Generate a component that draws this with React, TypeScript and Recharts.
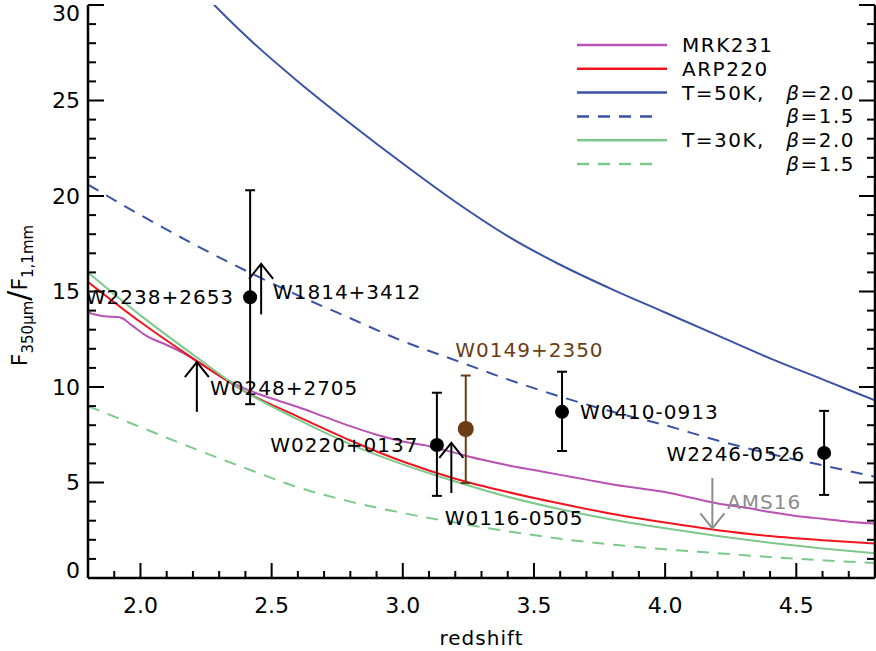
import React from "react";
import { ComposedChart, Line, Scatter, ErrorBar, XAxis, YAxis, Legend } from "recharts";

const FONT = "'DejaVu Sans', sans-serif";

// redshift grid shared by the smooth template curves
const zGrid = [1.8, 2.0, 2.2, 2.4, 2.6, 2.8, 3.0, 3.2, 3.4, 3.6, 3.8, 4.0, 4.2, 4.4, 4.6, 4.8];
const arp220 = [15.5, 13.4, 11.5, 9.75, 8.45, 7.2, 6.1, 5.2, 4.5, 3.9, 3.35, 2.9, 2.5, 2.2, 1.98, 1.8];
const t50b20 = [38.5, 34.6, 31.2, 28.4, 26.0, 23.8, 21.7, 19.7, 17.9, 16.4, 15.1, 13.9, 12.7, 11.5, 10.4, 9.3];
const t50b15 = [20.6, 19.0, 17.5, 16.1, 14.8, 13.6, 12.4, 11.4, 10.4, 9.5, 8.7, 8.0, 7.2, 6.5, 5.9, 5.3];
const t30b20 = [16.0, 13.75, 11.7, 9.75, 8.3, 7.0, 5.95, 5.05, 4.25, 3.6, 3.05, 2.6, 2.2, 1.85, 1.55, 1.3];
const t30b15 = [9.0, 7.9, 6.8, 5.75, 4.75, 4.0, 3.4, 2.9, 2.45, 2.05, 1.75, 1.5, 1.3, 1.1, 0.93, 0.78];

// MRK231 is wiggly at low z, so it has its own sampling
const mrk231Z = [1.8, 1.86, 1.92, 1.97, 2.02, 2.1, 2.16, 2.22, 2.3, 2.4, 2.5, 2.6, 2.7, 2.8, 2.9, 3.0, 3.1, 3.2, 3.3, 3.4, 3.5, 3.6, 3.7, 3.8, 3.9, 4.0, 4.1, 4.2, 4.3, 4.4, 4.5, 4.6, 4.7, 4.8];
const mrk231 = [13.9, 13.7, 13.65, 13.2, 12.7, 12.2, 11.8, 11.3, 10.6, 9.9, 9.4, 8.95, 8.45, 7.95, 7.5, 7.15, 6.9, 6.55, 6.2, 5.9, 5.65, 5.4, 5.15, 4.9, 4.7, 4.5, 4.2, 3.9, 3.7, 3.45, 3.25, 3.1, 2.95, 2.85];

// detections with error bars
const detections = [
  { name: "W2238+2653", x: 2.418, y: 14.7, lo: 9.1, hi: 20.3 },
  { name: "W0220+0137", x: 3.13, y: 6.96, lo: 4.3, hi: 9.7 },
  { name: "W0410-0913", x: 3.607, y: 8.7, lo: 6.65, hi: 10.8 },
  { name: "W2246-0526", x: 4.606, y: 6.55, lo: 4.35, hi: 8.75 },
];
const brownDetections = [{ name: "W0149+2350", x: 3.24, y: 7.8, lo: 4.97, hi: 10.6 }];

// limits: arrow from -> to
const lowerLimits = [
  { name: "W1814+3412", x: 2.46, from: 13.8, to: 16.45 },
  { name: "W0248+2705", x: 2.215, from: 8.7, to: 11.3 },
  { name: "W0116-0505", x: 3.185, from: 4.45, to: 7.07 },
];
const upperLimits = [{ name: "AMS16", x: 4.18, from: 5.24, to: 2.6 }];

// source names, placed in data coordinates
const labelsLeft = [
  { text: "W2238+2653", x: 2.357, y: 14.7 },
  { text: "W0220+0137", x: 3.06, y: 6.96 },
  { text: "W2246-0526", x: 4.534, y: 6.49 },
];
const labelsRight = [
  { text: "W1814+3412", x: 2.505, y: 14.97 },
  { text: "W0248+2705", x: 2.265, y: 9.95 },
  { text: "W0116-0505", x: 3.16, y: 3.14 },
  { text: "W0410-0913", x: 3.675, y: 8.69 },
];
const labelsBrown = [{ text: "W0149+2350", x: 3.2, y: 11.94 }];
const labelsGray = [{ text: "AMS16", x: 4.236, y: 3.98 }];

const xTicks = [1.8, 1.9, 2.0, 2.1, 2.2, 2.3, 2.4, 2.5, 2.6, 2.7, 2.8, 2.9, 3.0, 3.1, 3.2, 3.3, 3.4, 3.5, 3.6, 3.7, 3.8, 3.9, 4.0, 4.1, 4.2, 4.3, 4.4, 4.5, 4.6, 4.7, 4.8];
const xMajor = [2.0, 2.5, 3.0, 3.5, 4.0, 4.5];
const yTicks = [0, 1, 2, 3, 4, 5, 6, 7, 8, 9, 10, 11, 12, 13, 14, 15, 16, 17, 18, 19, 20, 21, 22, 23, 24, 25, 26, 27, 28, 29, 30];
const yMajor = [0, 5, 10, 15, 20, 25, 30];

const MAGENTA = "#B952B4";
const RED = "#F2141C";
const BLUE = "#3A52A6";
const GREEN = "#7DC98B";
const BROWN = "#6B3D14";
const GRAY = "#8C8C8C";

const curve = (xs: number[], ys: number[]) => xs.map((x, i) => ({ x, y: ys[i] }));

const series = [
  { key: "mrk", data: curve(mrk231Z, mrk231), color: MAGENTA, dashed: false, left: "MRK231", right: "" },
  { key: "arp", data: curve(zGrid, arp220), color: RED, dashed: false, left: "ARP220", right: "" },
  { key: "t50b20", data: curve(zGrid, t50b20), color: BLUE, dashed: false, left: "T=50K,", right: "β=2.0" },
  { key: "t50b15", data: curve(zGrid, t50b15), color: BLUE, dashed: true, left: "", right: "β=1.5" },
  { key: "t30b20", data: curve(zGrid, t30b20), color: GREEN, dashed: false, left: "T=30K,", right: "β=2.0" },
  { key: "t30b15", data: curve(zGrid, t30b15), color: GREEN, dashed: true, left: "", right: "β=1.5" },
];

const withErr = (rows: typeof detections) => rows.map((d) => ({ ...d, err: [d.y - d.lo, d.hi - d.y] }));

const isIn = (arr: number[], v: number) => arr.some((t) => Math.abs(t - v) < 1e-6);

const BottomTick = (p: any) => {
  const v = p.payload.value;
  const major = isIn(xMajor, v);
  return (
    <g>
      <line x1={p.x} x2={p.x} y1={p.y} y2={p.y - (major ? 15 : 7)} stroke="#000" strokeWidth={2} />
      {major && (
        <text x={p.x} y={p.y + 35} textAnchor="middle" fontFamily={FONT} fontSize={22} fill="#000">
          {v.toFixed(1)}
        </text>
      )}
    </g>
  );
};

const TopTick = (p: any) => {
  const major = isIn(xMajor, p.payload.value);
  return <line x1={p.x} x2={p.x} y1={p.y} y2={p.y + (major ? 15 : 7)} stroke="#000" strokeWidth={2} />;
};

const LeftTick = (p: any) => {
  const v = p.payload.value;
  const major = isIn(yMajor, v);
  const ty = Math.min(Math.max(p.y, 13), 570);
  return (
    <g>
      <line x1={p.x} x2={p.x + (major ? 16 : 8)} y1={p.y} y2={p.y} stroke="#000" strokeWidth={2} />
      {major && (
        <text x={p.x - 8} y={ty} textAnchor="end" dominantBaseline="central" fontFamily={FONT} fontSize={22} fill="#000">
          {v}
        </text>
      )}
    </g>
  );
};

const RightTick = (p: any) => {
  const major = isIn(yMajor, p.payload.value);
  return <line x1={p.x} x2={p.x - (major ? 16 : 8)} y1={p.y} y2={p.y} stroke="#000" strokeWidth={2} />;
};

const YTitle = (props: any) => {
  const vb = props.viewBox || { x: 0, y: 5, width: 88, height: 573 };
  const cx = 27;
  const cy = vb.y + vb.height / 2 + 4;
  return (
    <text x={cx} y={cy} transform={`rotate(-90, ${cx}, ${cy})`} textAnchor="middle" fontFamily={FONT} fill="#000">
      <tspan fontSize={22}>F</tspan>
      <tspan fontSize={15} dy={6}>350μm</tspan>
      <tspan fontSize={30} dy={-4}>/</tspan>
      <tspan fontSize={22} dy={-2}>F</tspan>
      <tspan fontSize={15} dy={6}>1,1mm</tspan>
    </text>
  );
};

const XTitle = (props: any) => {
  const vb = props.viewBox || { x: 88, y: 578, width: 787, height: 73 };
  return (
    <text x={vb.x + vb.width / 2} y={645} textAnchor="middle" fontFamily={FONT} fontSize={20} letterSpacing={1} fill="#000">
      redshift
    </text>
  );
};

const dotShape = (color: string, r: number) => (p: any) => <circle cx={p.cx} cy={p.cy} r={r} fill={color} />;

const labelShape = (anchor: string, color: string) => (p: any) => (
  <text x={p.cx} y={p.cy} textAnchor={anchor} dominantBaseline="central" fontFamily={FONT} fontSize={20} letterSpacing={1} fill={color}>
    {p.payload.text}
  </text>
);

const arrowHead = (up: boolean, color: string) => (p: any) => {
  if (p.index !== 1) return <g key={`a${p.index}`} />;
  const s = up ? 1 : -1;
  return (
    <polyline
      key={`a${p.index}`}
      points={`${p.cx - 12},${p.cy + 15 * s} ${p.cx},${p.cy} ${p.cx + 12},${p.cy + 15 * s}`}
      fill="none"
      stroke={color}
      strokeWidth={2}
    />
  );
};

const LegendBox = () => (
  <svg width={300} height={150} style={{ overflow: "visible" }}>
    {series.map((s, i) => {
      const cy = 15 + i * 23.8;
      const dash = s.dashed;
      return (
        <g key={s.key}>
          <line x1={7} x2={dash ? 88 : 97} y1={cy} y2={cy} stroke={s.color} strokeWidth={2.5} strokeDasharray={dash ? "12 9" : undefined} />
          {s.left && (
            <text x={112} y={cy} dominantBaseline="central" fontFamily={FONT} fontSize={20} letterSpacing={1.5} fill="#000">
              {s.left}
            </text>
          )}
          {s.right && (
            <text x={285} y={cy} textAnchor="end" dominantBaseline="central" fontFamily={FONT} fontSize={20} letterSpacing={1.5} fill="#000">
              <tspan fontStyle="italic">{s.right.charAt(0)}</tspan>
              {s.right.slice(1)}
            </text>
          )}
        </g>
      );
    })}
  </svg>
);

export default function App() {
  return (
    <div style={{ position: "absolute", left: 0, top: 0, width: 876, height: 651, background: "#fff" }}>
      <ComposedChart width={876} height={651} margin={{ top: 5, right: 0, bottom: 0, left: 0 }}>
        <XAxis
          dataKey="x"
          type="number"
          domain={[1.8, 4.8]}
          allowDataOverflow
          ticks={xTicks}
          interval={0}
          height={73}
          tickSize={0}
          tickMargin={0}
          tickLine={false}
          tick={BottomTick}
          axisLine={{ stroke: "#000", strokeWidth: 2.5 }}
          label={<XTitle />}
        />
        <XAxis
          xAxisId="top"
          orientation="top"
          type="number"
          domain={[1.8, 4.8]}
          allowDataOverflow
          ticks={xTicks}
          interval={0}
          height={0}
          tickSize={0}
          tickMargin={0}
          tickLine={false}
          tick={TopTick}
          axisLine={{ stroke: "#000", strokeWidth: 2.5 }}
        />
        <YAxis
          type="number"
          domain={[0, 30]}
          allowDataOverflow
          ticks={yTicks}
          interval={0}
          width={88}
          tickSize={0}
          tickMargin={0}
          tickLine={false}
          tick={LeftTick}
          axisLine={{ stroke: "#000", strokeWidth: 2.5 }}
          label={<YTitle />}
        />
        <YAxis
          yAxisId="right"
          orientation="right"
          type="number"
          domain={[0, 30]}
          allowDataOverflow
          ticks={yTicks}
          interval={0}
          width={1}
          tickSize={0}
          tickMargin={0}
          tickLine={false}
          tick={RightTick}
          axisLine={{ stroke: "#000", strokeWidth: 2.5 }}
        />
        <Legend
          layout="vertical"
          align="center"
          verticalAlign="middle"
          content={<LegendBox />}
          wrapperStyle={{ position: "absolute", left: 570, top: 30, width: 300, height: 150 }}
        />

        {series.map((s) => (
          <Line
            key={s.key}
            data={s.data}
            dataKey="y"
            type="monotone"
            stroke={s.color}
            strokeWidth={2}
            strokeDasharray={s.dashed ? "12 9" : undefined}
            dot={false}
            activeDot={false}
            isAnimationActive={false}
          />
        ))}

        {lowerLimits.map((a) => (
          <Line
            key={a.name}
            data={[{ x: a.x, y: a.from }, { x: a.x, y: a.to }]}
            dataKey="y"
            stroke="#000"
            strokeWidth={2}
            dot={arrowHead(true, "#000")}
            activeDot={false}
            isAnimationActive={false}
          />
        ))}
        {upperLimits.map((a) => (
          <Line
            key={a.name}
            data={[{ x: a.x, y: a.from }, { x: a.x, y: a.to }]}
            dataKey="y"
            stroke={GRAY}
            strokeWidth={2}
            dot={arrowHead(false, GRAY)}
            activeDot={false}
            isAnimationActive={false}
          />
        ))}

        <Scatter data={withErr(detections)} dataKey="y" shape={dotShape("#000", 7)} isAnimationActive={false}>
          <ErrorBar dataKey="err" direction="y" width={5} stroke="#000" strokeWidth={2} isAnimationActive={false} />
        </Scatter>
        <Scatter data={withErr(brownDetections)} dataKey="y" shape={dotShape(BROWN, 8)} isAnimationActive={false}>
          <ErrorBar dataKey="err" direction="y" width={5} stroke={BROWN} strokeWidth={2} isAnimationActive={false} />
        </Scatter>

        <Scatter data={labelsLeft} dataKey="y" shape={labelShape("end", "#000")} isAnimationActive={false} />
        <Scatter data={labelsRight} dataKey="y" shape={labelShape("start", "#000")} isAnimationActive={false} />
        <Scatter data={labelsBrown} dataKey="y" shape={labelShape("start", BROWN)} isAnimationActive={false} />
        <Scatter data={labelsGray} dataKey="y" shape={labelShape("start", GRAY)} isAnimationActive={false} />
      </ComposedChart>
    </div>
  );
}
